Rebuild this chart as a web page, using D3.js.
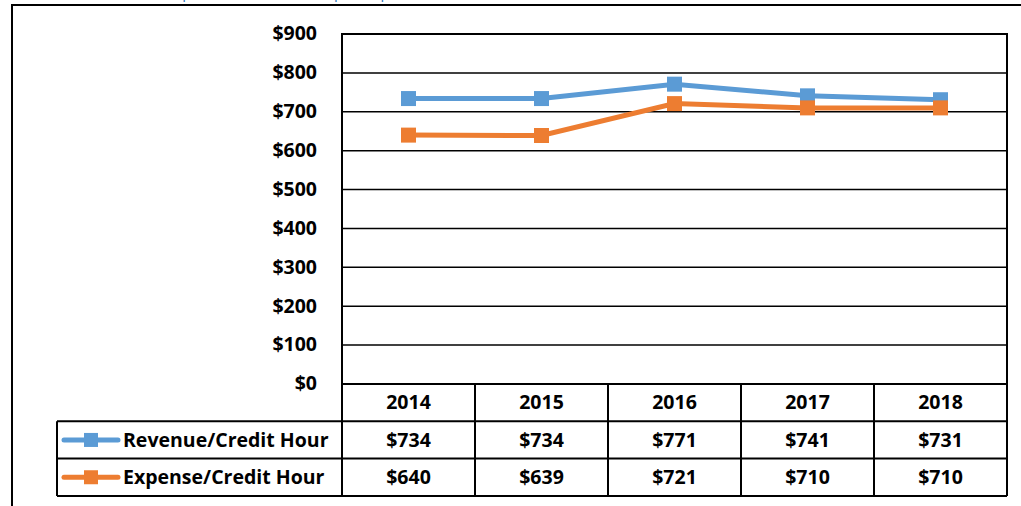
<!DOCTYPE html>
<html>
<head>
<meta charset="utf-8">
<script src="https://cdn.jsdelivr.net/npm/d3@7/dist/d3.min.js"></script>
<style>
  body { margin: 0; background: #fff; }
  svg { display: block; }
  text { font-family: "Open Sans", Lato, sans-serif; font-weight: bold; fill: #000; }
</style>
</head>
<body>
<svg></svg>
<script>
var years = ['2014', '2015', '2016', '2017', '2018']
var revenue = [734, 734, 771, 741, 731]
var expense = [640, 639, 721, 710, 710]
var seriesNames = ['Revenue/Credit Hour', 'Expense/Credit Hour']
var seriesColors = ['#5B9BD5', '#ED7D31']
var yTicks = [0, 100, 200, 300, 400, 500, 600, 700, 800, 900]

var width = 1021
var height = 506

var svg = d3.select('svg').attr('width', width).attr('height', height)

// plot area and data table geometry
var plotLeft = 342, plotRight = 1007, plotTop = 34, plotBottom = 384
var rowH = 37.3
var legendLeft = 57
var fontSize = 19.5

var x = d3.scaleBand().domain(years).range([plotLeft, plotRight])
var y = d3.scaleLinear().domain([0, 900]).range([plotBottom, plotTop])
var cx = function(d) {return x(d) + x.bandwidth() / 2}

// outer frame of the picture, mostly cut off
svg.append('path')
	.attr('d', 'M12,' + height + 'V5H' + width)
	.attr('fill', 'none').attr('stroke', '#000').attr('stroke-width', 2)

// blue heading above the frame, only its descenders show
svg.append('text')
	.attr('x', 118).attr('y', -2)
	.style('font-weight', 'normal').style('fill', '#2E75B6').attr('font-size', 15)
	.text('Revenue per Credit Hour vs. Expense per Credit Hour')

// gridlines
svg.append('g').selectAll('line').data(yTicks).enter().append('line')
	.attr('x1', plotLeft).attr('x2', plotRight)
	.attr('y1', function(d) {return y(d)}).attr('y2', function(d) {return y(d)})
	.attr('stroke', '#000').attr('stroke-width', 1.5)

// y axis labels
var yAxis = d3.axisLeft(y).tickValues(yTicks).tickSize(0).tickPadding(25)
	.tickFormat(function(d) {return '$' + d})
var ya = svg.append('g').attr('transform', 'translate(' + plotLeft + ',0)').call(yAxis)
ya.select('.domain').remove()
ya.selectAll('text').attr('font-size', fontSize).attr('dy', '0.3em')
	.style('font-family', '"Open Sans", sans-serif').style('font-weight', 'bold')

// plot frame
svg.append('rect')
	.attr('x', plotLeft).attr('y', plotTop)
	.attr('width', plotRight - plotLeft).attr('height', plotBottom - plotTop)
	.attr('fill', 'none').attr('stroke', '#000').attr('stroke-width', 2)

// data table lines
var table = svg.append('g').attr('stroke', '#000').attr('stroke-width', 2)
var tBottom = plotBottom + rowH * 3
;[1, 2, 3].forEach(function(r) {
	table.append('line').attr('x1', legendLeft).attr('x2', plotRight)
		.attr('y1', plotBottom + rowH * r).attr('y2', plotBottom + rowH * r)
})
table.append('line').attr('x1', legendLeft).attr('x2', legendLeft)
	.attr('y1', plotBottom + rowH).attr('y2', tBottom)
var cols = years.map(function(d) {return x(d)}).concat([plotRight])
table.selectAll('line.col').data(cols).enter().append('line').attr('class', 'col')
	.attr('x1', function(d) {return d}).attr('x2', function(d) {return d})
	.attr('y1', plotBottom).attr('y2', tBottom)

// table texts
svg.append('g').selectAll('text').data(years).enter().append('text')
	.attr('x', cx).attr('y', plotBottom + rowH / 2).attr('dy', '0.35em')
	.attr('text-anchor', 'middle').attr('font-size', fontSize)
	.text(function(d) {return d})

var rows = [revenue, expense]
rows.forEach(function(vals, i) {
	var ry = plotBottom + rowH * (i + 1) + rowH / 2
	svg.append('g').selectAll('text').data(vals).enter().append('text')
		.attr('x', function(d, j) {return cx(years[j])}).attr('y', ry).attr('dy', '0.35em')
		.attr('text-anchor', 'middle').attr('font-size', fontSize)
		.text(function(d) {return '$' + d})
	// legend key
	svg.append('line').attr('x1', 64).attr('x2', 118).attr('y1', ry).attr('y2', ry)
		.attr('stroke', seriesColors[i]).attr('stroke-width', 5).attr('stroke-linecap', 'round')
	svg.append('rect').attr('x', 84).attr('y', ry - 7).attr('width', 14).attr('height', 14)
		.attr('fill', seriesColors[i])
	svg.append('text').attr('x', 123).attr('y', ry).attr('dy', '0.35em')
		.attr('font-size', fontSize).text(seriesNames[i])
})

// series lines and markers
var line = d3.line().x(function(d, j) {return cx(years[j])}).y(function(d) {return y(d)})
rows.forEach(function(vals, i) {
	svg.append('path').datum(vals).attr('d', line)
		.attr('fill', 'none').attr('stroke', seriesColors[i]).attr('stroke-width', 5)
	svg.append('g').selectAll('rect').data(vals).enter().append('rect')
		.attr('x', function(d, j) {return cx(years[j]) - 7.5})
		.attr('y', function(d) {return y(d) - 7.5})
		.attr('width', 15).attr('height', 15)
		.attr('fill', seriesColors[i])
})
</script>
</body>
</html>
